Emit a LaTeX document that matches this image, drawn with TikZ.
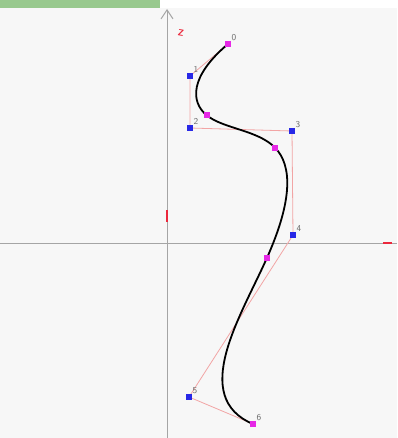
\documentclass[tikz,border=0pt]{standalone}
\usetikzlibrary{calc,arrows.meta}

\definecolor{canvas}{RGB}{247,247,247}
\definecolor{topbar}{RGB}{152,201,142}
\definecolor{axisgray}{RGB}{165,165,165}
\definecolor{polypink}{RGB}{242,165,165}
\definecolor{ctrlblue}{RGB}{40,40,230}
\definecolor{knotpink}{RGB}{230,40,230}
\definecolor{labelgray}{RGB}{110,110,110}
\definecolor{markred}{RGB}{235,40,60}

\tikzset{
  axis/.style={draw=axisgray, line width=1pt},
  polyline/.style={draw=polypink, line width=0.8pt},
  spline/.style={draw=black, line width=1.8pt},
  ctrl/.style={fill=ctrlblue, minimum size=6pt, inner sep=0pt},
  knot/.style={fill=knotpink, minimum size=6pt, inner sep=0pt},
  ptlabel/.style={text=labelgray, font=\sffamily\small, inner sep=0.3pt}
}

\begin{document}
\begin{tikzpicture}[x=1pt,y=-1pt]
  \useasboundingbox (0,0) rectangle (397,438);
  \fill[white] (0,0) rectangle (397,438);
  \fill[canvas] (0,8) rectangle (397,438);
  \fill[topbar] (0,0) rectangle (160,8);

  % axes
  \draw[axis] (0,243) -- (397,243);
  \draw[axis,-{Straight Barb[length=9pt,width=12pt]}] (167,438) -- (167,9);
  \draw[markred, line width=1.2pt] (167,210) -- (167,222);
  \draw[markred, line width=1.2pt] (383,243) -- (392,243);
  \node[text=markred, font=\sffamily\bfseries\small, rotate=-10] (zname) at (181,33) {Z};

  % control points
  \foreach \n/\x/\y in {0/228/44,1/190/76,2/190/128,3/292/131,4/293/235,5/189/397,6/253/424}
    \coordinate (p\n) at (\x,\y);

  % bezier pieces of the spline
  \coordinate (a1) at ($(p1)!0.5!(p2)$);
  \coordinate (b1) at ($(p2)!1/3!(p3)$);
  \coordinate (k1) at ($(a1)!0.5!(b1)$);
  \coordinate (a2) at ($(p2)!2/3!(p3)$);
  \coordinate (b2) at ($(p3)!1/3!(p4)$);
  \coordinate (k2) at ($(a2)!0.5!(b2)$);
  \coordinate (a3) at ($(p3)!2/3!(p4)$);
  \coordinate (b3) at ($(p4)!0.5!(p5)$);
  \coordinate (k3) at ($(a3)!0.5!(b3)$);

  \draw[polyline] (p0) -- (p1) -- (p2) -- (p3) -- (p4) -- (p5) -- (p6);
  \draw[spline] (p0) .. controls (p1) and (a1) .. (k1)
    .. controls (b1) and (a2) .. (k2)
    .. controls (b2) and (a3) .. (k3)
    .. controls (b3) and (p5) .. (p6);

  \foreach \n in {1,...,5}
    \node[ctrl, label={[ptlabel]north east:\n}] (n\n) at (p\n) {};
  \foreach \n in {0,6}
    \node[knot, label={[ptlabel]north east:\n}] (n\n) at (p\n) {};
  \foreach \k in {1,2,3}
    \node[knot] (m\k) at (k\k) {};
\end{tikzpicture}
\end{document}
